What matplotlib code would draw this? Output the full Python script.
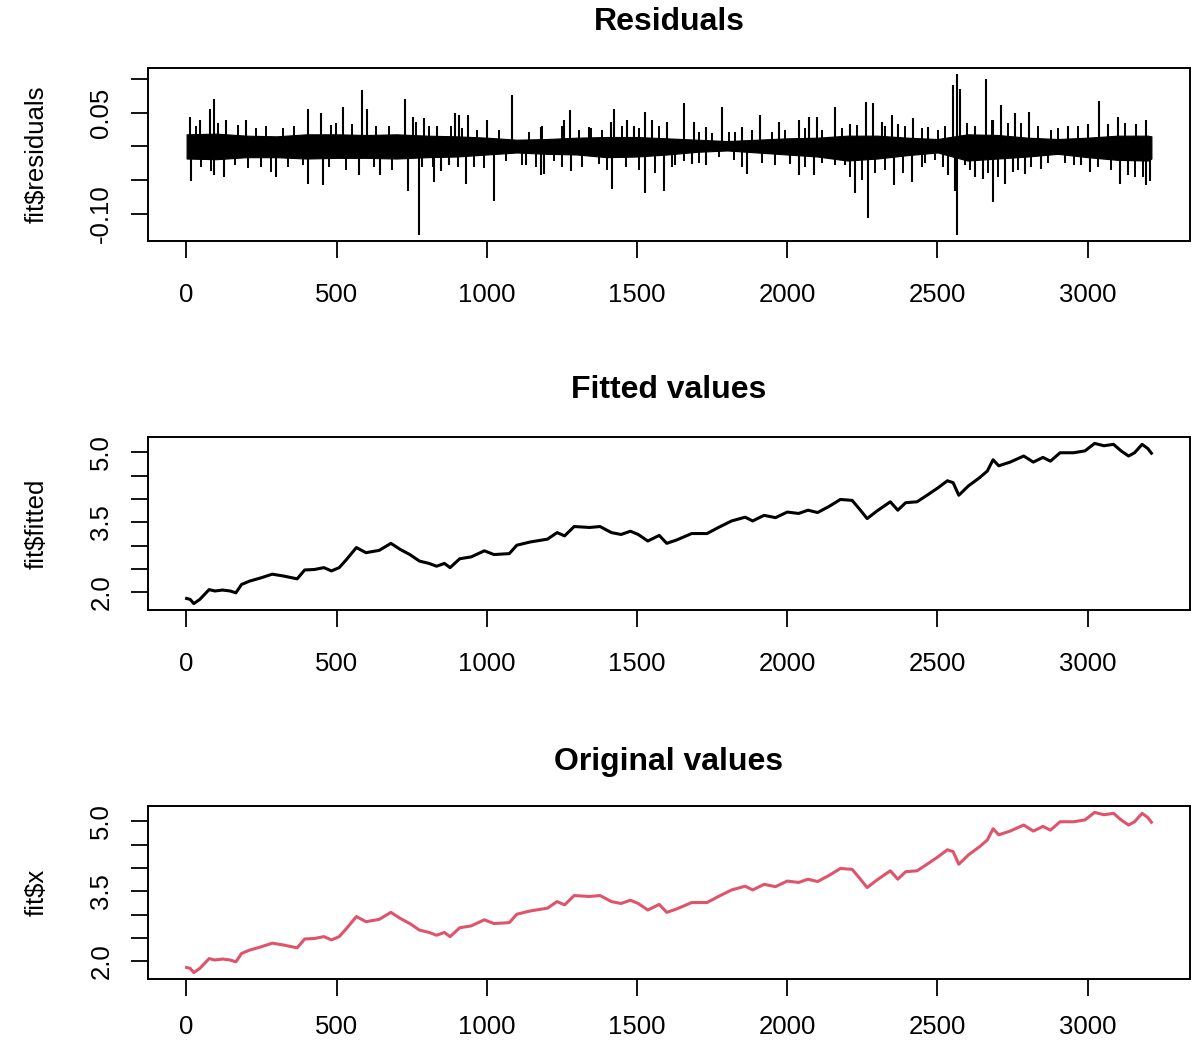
import matplotlib
matplotlib.use("Agg")
import matplotlib.pyplot as plt

plt.rcParams["font.family"] = ["Liberation Sans", "DejaVu Sans"]

# ---- series level (observed and fitted values coincide at this scale) ----
level_index = [1, 13, 25, 45, 76, 95, 121, 146, 165, 184, 210, 248, 286, 324, 369,
               394, 426, 458, 483, 509, 534, 566, 598, 642, 681, 712, 744, 776, 808,
               833, 859, 878, 910, 948, 992, 1024, 1075, 1100, 1145, 1202, 1234, 1259,
               1291, 1342, 1377, 1415, 1447, 1478, 1504, 1536, 1574, 1599, 1631, 1682,
               1733, 1771, 1815, 1860, 1885, 1923, 1961, 2000, 2038, 2069, 2101, 2139,
               2177, 2216, 2241, 2266, 2298, 2343, 2368, 2394, 2432, 2470, 2502, 2533,
               2552, 2571, 2603, 2641, 2666, 2685, 2704, 2742, 2787, 2819, 2851, 2876,
               2908, 2953, 2991, 3023, 3054, 3086, 3111, 3136, 3156, 3181, 3200, 3212]
level_value = [1.87, 1.85, 1.76, 1.85, 2.06, 2.03, 2.05, 2.03, 1.99, 2.17, 2.24, 2.31,
               2.39, 2.35, 2.29, 2.48, 2.49, 2.53, 2.46, 2.53, 2.71, 2.96, 2.85, 2.90,
               3.05, 2.92, 2.81, 2.67, 2.62, 2.56, 2.62, 2.53, 2.72, 2.76, 2.89, 2.81,
               2.83, 3.01, 3.08, 3.14, 3.28, 3.21, 3.41, 3.39, 3.41, 3.28, 3.24, 3.31,
               3.24, 3.10, 3.22, 3.05, 3.12, 3.26, 3.26, 3.39, 3.53, 3.61, 3.53, 3.65,
               3.60, 3.72, 3.69, 3.76, 3.71, 3.84, 3.99, 3.97, 3.78, 3.58, 3.74, 3.94,
               3.76, 3.92, 3.94, 4.10, 4.24, 4.39, 4.35, 4.08, 4.28, 4.46, 4.60, 4.84,
               4.71, 4.79, 4.92, 4.79, 4.89, 4.81, 4.99, 4.99, 5.03, 5.19, 5.14, 5.17,
               5.03, 4.92, 4.99, 5.17, 5.08, 4.98]

# ---- residuals: dense core envelope ----
band_index = [1, 100, 200, 300, 400, 500, 600, 700, 800, 900, 1000, 1100, 1200, 1300,
              1400, 1500, 1600, 1700, 1800, 1900, 2000, 2100, 2200, 2300, 2400, 2500,
              2600, 2700, 2800, 2900, 3000, 3100, 3200, 3212]
band_high = [0.018, 0.019, 0.016, 0.015, 0.018, 0.018, 0.017, 0.018, 0.016, 0.015,
             0.013, 0.010, 0.011, 0.013, 0.014, 0.014, 0.012, 0.010, 0.008, 0.010,
             0.012, 0.013, 0.016, 0.016, 0.013, 0.011, 0.018, 0.017, 0.013, 0.011,
             0.013, 0.016, 0.016, 0.015]
band_low = [-0.018, -0.019, -0.016, -0.016, -0.018, -0.017, -0.017, -0.018, -0.016,
            -0.015, -0.012, -0.009, -0.011, -0.012, -0.016, -0.015, -0.012, -0.008,
            -0.006, -0.009, -0.012, -0.015, -0.021, -0.018, -0.013, -0.009, -0.021,
            -0.018, -0.015, -0.011, -0.016, -0.020, -0.021, -0.018]

# ---- residuals: large excursions ----
spike_index = [11, 16, 44, 78, 91, 91, 127, 131, 199, 299, 404, 404, 448, 454, 520,
               576, 585, 600, 644, 729, 739, 755, 773, 792, 825, 836, 847, 875, 895,
               908, 930, 939, 1002, 1024, 1085, 1129, 1179, 1179, 1190, 1257, 1277,
               1279, 1340, 1412, 1418, 1423, 1467, 1490, 1525, 1525, 1550, 1589, 1600,
               1628, 1656, 1683, 1689, 1728, 1731, 1783, 1849, 1866, 1910, 1971, 2010,
               2038, 2038, 2071, 2088, 2099, 2160, 2193, 2210, 2226, 2261, 2268, 2287,
               2315, 2348, 2355, 2370, 2414, 2420, 2458, 2470, 2536, 2553, 2558, 2564,
               2566, 2575, 2591, 2625, 2625, 2653, 2661, 2686, 2686, 2713, 2724, 2751,
               2757, 2790, 2806, 2845, 2934, 2979, 3001, 3006, 3037, 3068, 3101, 3107,
               3134, 3162, 3195, 3195, 3206]
spike_value = [0.044, -0.051, 0.039, 0.056, 0.071, -0.043, -0.046, 0.039, 0.039,
               -0.046, 0.056, -0.056, 0.049, -0.058, 0.059, -0.043, 0.084, 0.056,
               -0.043, 0.071, -0.066, 0.044, -0.131, 0.042, -0.053, 0.031, -0.036,
               -0.028, 0.049, 0.046, -0.056, 0.047, 0.039, -0.081, 0.077, -0.028,
               -0.043, 0.029, -0.041, 0.039, 0.054, -0.036, 0.029, 0.036, -0.064,
               0.056, 0.039, 0.031, 0.051, -0.069, 0.039, -0.066, 0.036, -0.028,
               0.064, -0.026, 0.036, -0.028, 0.029, 0.059, 0.029, -0.041, 0.047,
               0.036, -0.026, 0.039, -0.043, 0.044, -0.043, 0.044, 0.058, -0.028,
               0.034, -0.069, 0.066, -0.106, 0.065, 0.036, 0.047, -0.058, 0.034,
               -0.053, 0.042, -0.024, 0.029, -0.043, 0.091, -0.066, 0.107, -0.131,
               0.086, -0.028, -0.046, 0.031, -0.049, 0.100, -0.083, 0.039, 0.062,
               -0.056, -0.038, 0.049, -0.041, 0.051, -0.033, 0.031, -0.028, 0.034,
               -0.038, 0.067, 0.034, 0.044, -0.056, -0.043, 0.034, 0.039, -0.058,
               -0.051]

# ---- residuals: moderate excursions around the core ----
minor_index = [33, 50, 83, 105, 161, 172, 205, 233, 249, 266, 282, 321, 338, 360, 388,
               476, 482, 498, 532, 553, 625, 631, 675, 686, 764, 786, 808, 820, 880,
               903, 919, 958, 969, 991, 1041, 1063, 1118, 1140, 1163, 1185, 1224, 1251,
               1251, 1307, 1318, 1346, 1373, 1384, 1401, 1451, 1462, 1506, 1506, 1561,
               1572, 1617, 1656, 1705, 1705, 1750, 1772, 1805, 1822, 1827, 1849, 1883,
               1916, 1949, 1960, 1994, 2060, 2060, 2115, 2115, 2160, 2182, 2210, 2231,
               2248, 2292, 2325, 2325, 2386, 2392, 2447, 2447, 2492, 2503, 2520, 2525,
               2597, 2608, 2669, 2680, 2702, 2735, 2768, 2779, 2812, 2834, 2867, 2879,
               2901, 2923, 2956, 2967, 3033, 3077, 3123, 3156, 3184]
minor_value = [0.030, -0.030, -0.036, 0.035, -0.028, 0.032, -0.032, 0.027, -0.030,
               0.030, -0.038, 0.028, -0.030, 0.030, -0.028, -0.030, 0.032, 0.035,
               -0.035, 0.033, -0.030, 0.030, 0.030, -0.035, 0.036, -0.030, 0.030,
               -0.030, 0.030, -0.030, 0.027, -0.030, 0.025, -0.032, 0.025, -0.022,
               -0.028, 0.022, -0.030, 0.030, -0.022, 0.030, -0.030, 0.025, -0.030,
               0.028, -0.026, 0.025, -0.035, 0.030, -0.030, 0.027, -0.035, -0.040,
               0.030, -0.030, -0.022, 0.022, -0.025, 0.020, -0.015, 0.022, -0.020,
               0.022, -0.030, 0.025, -0.025, 0.022, -0.028, 0.025, 0.028, -0.030,
               0.025, -0.025, -0.028, 0.028, -0.045, 0.032, -0.050, -0.040, 0.030,
               -0.035, -0.040, 0.030, 0.028, -0.030, -0.020, 0.025, -0.030, 0.030,
               0.035, -0.035, -0.040, 0.040, -0.045, 0.035, -0.035, 0.035, -0.030,
               0.030, -0.025, 0.025, 0.028, -0.025, -0.028, 0.030, -0.030, -0.035,
               0.035, -0.045, -0.045]

# ---- axes annotation ----
x_ticks = [0, 500, 1000, 1500, 2000, 2500, 3000]
x_tick_labels = ["0", "500", "1000", "1500", "2000", "2500", "3000"]
resid_ticks = [-0.10, -0.05, 0.00, 0.05, 0.10]
resid_tick_labels = ["-0.10", "", "", "0.05", ""]
level_ticks = [2.0, 2.5, 3.0, 3.5, 4.0, 4.5, 5.0]
level_tick_labels = ["2.0", "", "", "3.5", "", "", "5.0"]
titles = ["Residuals", "Fitted values", "Original values"]
y_labels = ["fit$residuals", "fit$fitted", "fit$x"]

RED = "#DF536B"
W, H = 1197, 1041
fig = plt.figure(figsize=(W / 100, H / 100), dpi=100)

# axes boxes in pixel units: (left, top, right, bottom)
boxes = [(148, 68, 1190, 241), (148, 437, 1190, 610), (148, 806, 1190, 979)]
title_y = [22, 390, 762]
x_label_pad = [18, 18, 14]

axes = []
for (l, t, r, b) in boxes:
    axes.append(fig.add_axes([l / W, 1 - b / H, (r - l) / W, (b - t) / H]))

# Residual panel: core band, moderate and large excursions
ax = axes[0]
ax.fill_between(band_index, band_low, band_high, color="black", lw=0.8)
ax.vlines(minor_index, 0, minor_value, color="black", lw=1.4)
ax.vlines(spike_index, 0, spike_value, color="black", lw=1.5)
sv_rng = max(spike_value) - min(spike_value)
ax.set_ylim(min(spike_value) - 0.04 * sv_rng, max(spike_value) + 0.04 * sv_rng)
ax.set_yticks(resid_ticks)
ax.set_yticklabels(resid_tick_labels)

# Fitted and original panels
axes[1].plot(level_index, level_value, color="black", lw=2.2)
axes[2].plot(level_index, level_value, color=RED, lw=2.2)
lv_rng = max(level_value) - min(level_value)
for a in axes[1:]:
    a.set_ylim(min(level_value) - 0.04 * lv_rng, max(level_value) + 0.04 * lv_rng)
    a.set_yticks(level_ticks)
    a.set_yticklabels(level_tick_labels)

x_rng = max(level_index) - min(level_index)
for a, ttl, yl, ty, xp in zip(axes, titles, y_labels, title_y, x_label_pad):
    a.set_xlim(min(level_index) - 0.04 * x_rng, max(level_index) + 0.04 * x_rng)
    a.set_xticks(x_ticks)
    a.set_xticklabels(x_tick_labels)
    for s in a.spines.values():
        s.set_linewidth(1.4)
    a.tick_params(axis="both", direction="out", length=12, width=1.3,
                  labelsize=18.5, colors="black")
    a.tick_params(axis="x", pad=xp)
    a.tick_params(axis="y", pad=13)
    for lab in a.get_yticklabels():
        lab.set_rotation(90)
        lab.set_va("center")
    a.text(-0.1065, 0.5, yl, transform=a.transAxes, rotation=90,
           ha="center", va="center", fontsize=18.5)
    fig.text(0.5 * (148 + 1190) / W, 1 - ty / H, ttl, ha="center", va="center",
             fontsize=23, fontweight="bold")

fig.savefig("out.png", dpi=100)
